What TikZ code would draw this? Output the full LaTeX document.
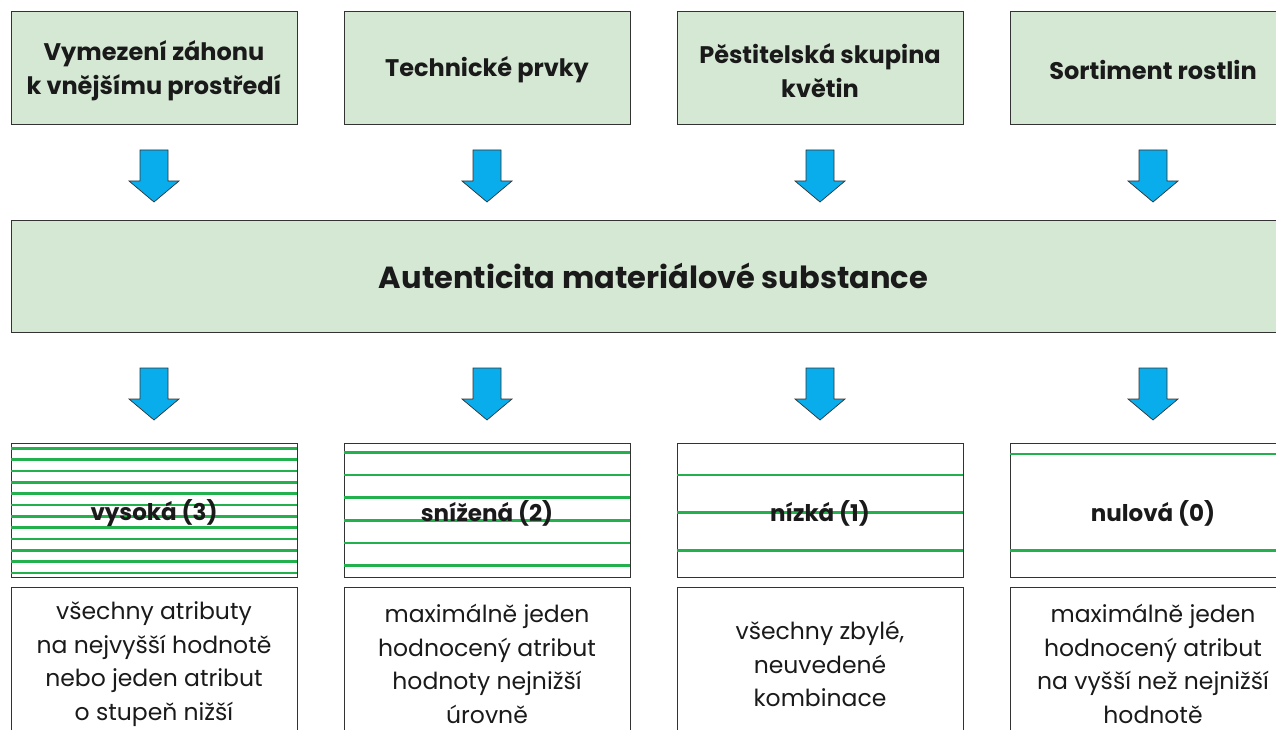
\documentclass[tikz,border=0pt]{standalone}
\usepackage{fontspec}
\setmainfont{Poppins}
\definecolor{boxgreen}{HTML}{D5E8D4}
\definecolor{linegreen}{HTML}{22B14C}
\definecolor{arrowblue}{HTML}{0AADEB}
\definecolor{edgegray}{HTML}{333333}
\definecolor{txt}{HTML}{1A1A1A}
\tikzset{
  topbox/.style={draw=edgegray, line width=0.9pt, fill=boxgreen, minimum width=286pt, minimum height=113pt, align=center, font=\fontsize{24}{34}\selectfont\bfseries, text=txt, inner sep=0pt},
  toplabel/.style={align=center, font=\fontsize{24}{34}\selectfont\bfseries, text=txt, inner sep=0pt},
  mainbox/.style={draw=edgegray, line width=0.9pt, fill=boxgreen, minimum width=1285pt, minimum height=112pt, font=\fontsize{30.5}{34}\selectfont\bfseries, text=txt, inner sep=0pt},
  levelbox/.style={draw=edgegray, line width=0.9pt, minimum width=286pt, minimum height=134pt, inner sep=0pt},
  levellabel/.style={font=\fontsize{23}{26}\selectfont\bfseries, text=txt, inner sep=0pt},
  descbox/.style={draw=edgegray, line width=0.9pt, minimum width=286pt, minimum height=153pt, inner sep=0pt},
  desclabel/.style={align=center, font=\fontsize{23.5}{33.5}\selectfont, text=txt, inner sep=0pt},
  stripe/.style={draw=linegreen, line width=2.8pt},
  downarrow/.pic={\draw[draw=edgegray, line width=0.7pt, fill=arrowblue, line join=miter]
     (-14,0) -- (14,0) -- (14,31) -- (25,31) -- (0,52) -- (-25,31) -- (-14,31) -- cycle;}
}
\begin{document}
\begin{tikzpicture}[x=1pt,y=-1pt]
\useasboundingbox (0,0) rectangle (1276,730);
\clip (0,0) rectangle (1276,730);
\fill[white] (0,0) rectangle (1276,730);

% top row
\node[topbox] (t1) at (154,67.5) {};
\node[topbox] (t2) at (487,67.5) {};
\node[topbox] (t3) at (820,67.5) {};
\node[topbox] (t4) at (1153,67.5) {};
\node[toplabel] (tl1) at (154,70.5) {Vymezení záhonu\\k vnějšímu prostředí};
\node[toplabel] (tl2) at (487,70) {Technické prvky};
\node[toplabel] (tl3) at (820,70.5) {Pěstitelská skupina\\květin};
\node[toplabel] (tl4) at (1153,70) {Sortiment rostlin};

% arrows row 1
\foreach \x in {154,487,820,1153} \pic at (\x,150) {downarrow};

% main box
\node[mainbox] (m) at (653.5,276) {Autenticita materiálové substance};

% arrows row 2
\foreach \x in {154,487,820,1153} \pic at (\x,368) {downarrow};

% level boxes
\node[levelbox] (l1) at (154,510) {};
\node[levelbox] (l2) at (487,510) {};
\node[levelbox] (l3) at (820,510) {};
\node[levelbox] (l4) at (1153,510) {};

\foreach \i in {0,...,11} \draw[stripe] (l1.west |- 0,448.3+11.33*\i) -- (l1.east |- 0,448.3+11.33*\i);
\foreach \i in {0,...,5} \draw[stripe] (l2.west |- 0,452.3+22.67*\i) -- (l2.east |- 0,452.3+22.67*\i);
\foreach \i in {0,...,2} \draw[stripe] (l3.west |- 0,475+37.67*\i) -- (l3.east |- 0,475+37.67*\i);
\foreach \yy in {454,550.3} \draw[stripe] (l4.west |- 0,\yy) -- (l4.east |- 0,\yy);

\node[levellabel] (v1) at (154,513) {vysoká (3)};
\node[levellabel] (v2) at (487,513) {snížená (2)};
\node[levellabel] (v3) at (820,513) {nízká (1)};
\node[levellabel] (v4) at (1153,513) {nulová (0)};

% description boxes
\node[descbox] (d1) at (154,663.5) {};
\node[descbox] (d2) at (487,663.5) {};
\node[descbox] (d3) at (820,663.5) {};
\node[descbox] (d4) at (1153,663.5) {};
\node[desclabel] (e1) at (154,664) {všechny atributy\\na nejvyšší hodnotě\\nebo jeden atribut\\o stupeň nižší};
\node[desclabel] (e2) at (487,664) {maximálně jeden\\hodnocený atribut\\hodnoty nejnižší\\úrovně};
\node[desclabel] (e3) at (820,664) {všechny zbylé,\\neuvedené\\kombinace};
\node[desclabel] (e4) at (1153,664) {maximálně jeden\\hodnocený atribut\\na vyšší než nejnižší\\hodnotě};
\end{tikzpicture}
\end{document}
